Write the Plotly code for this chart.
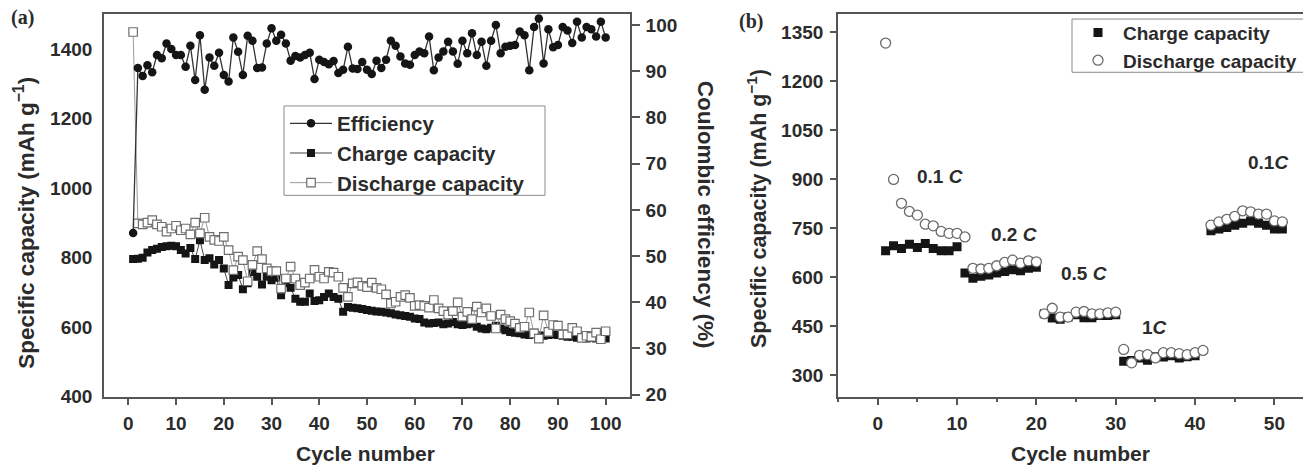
import plotly.graph_objects as go

# ---------------- Panel (a) data ----------------
cycles_a = list(range(1, 101))

efficiency = [55.0, 90.7, 89.0, 91.3, 89.8, 93.5, 92.8, 96.0, 94.8, 93.5,
              93.5, 91.0, 95.5, 88.1, 97.8, 86.0, 93.0, 91.2, 94.0, 89.2,
              87.8, 97.3, 94.2, 89.2, 97.7, 96.6, 90.7, 90.8, 96.0, 99.3,
              96.6, 97.9, 96.0, 92.3, 93.3, 93.0, 93.5, 94.0, 88.3, 92.5,
              92.0, 91.5, 92.2, 89.6, 90.3, 95.3, 90.6, 90.5, 92.0, 90.3,
              89.4, 92.3, 90.7, 92.5, 96.6, 95.5, 93.2, 91.7, 91.4, 93.5,
              94.3, 93.9, 97.5, 90.2, 93.0, 94.3, 96.4, 94.3, 91.6, 96.6,
              93.9, 98.2, 93.5, 96.4, 91.2, 96.6, 100.0, 93.9, 95.3, 95.5,
              95.7, 98.6, 97.8, 90.2, 99.6, 101.4, 91.7, 99.1, 95.2, 95.7,
              99.6, 98.8, 96.1, 100.7, 97.3, 99.6, 99.1, 97.5, 100.7, 97.3]

charge_a = [796, 797, 800, 815, 822, 826, 831, 833, 834, 833,
            822, 812, 828, 796, 850, 793, 798, 780, 793, 769,
            721, 743, 750, 709, 726, 759, 745, 723, 745, 735,
            742, 692, 726, 713, 682, 673, 673, 697, 675, 677,
            687, 697, 687, 682, 644, 658, 656, 654, 652, 649,
            647, 645, 644, 642, 640, 636, 634, 632, 630, 625,
            623, 613, 610, 612, 613, 608, 610, 615, 608, 606,
            608, 610, 601, 596, 594, 598, 604, 596, 591, 586,
            584, 582, 579, 577, 584, 576, 575, 577, 579, 577,
            575, 572, 572, 569, 572, 567, 569, 567, 568, 567]

discharge_a = [1450, 899, 896, 901, 908, 896, 889, 875, 884, 892,
               879, 884, 867, 901, 870, 915, 860, 851, 848, 860,
               822, 764, 803, 793, 732, 779, 819, 796, 769, 761,
               761, 711, 740, 774, 740, 721, 728, 740, 765, 745,
               740, 759, 757, 745, 713, 687, 726, 729, 719, 715,
               728, 713, 709, 694, 668, 673, 687, 692, 684, 661,
               663, 661, 656, 678, 654, 646, 636, 646, 671, 630,
               644, 623, 659, 642, 654, 632, 596, 636, 623, 617,
               610, 598, 601, 642, 582, 567, 634, 586, 606, 604,
               579, 579, 598, 588, 569, 575, 572, 584, 565, 588]

# ---------------- Panel (b) data ----------------
charge_b_cycles = (list(range(1, 11)) + list(range(11, 21)) + list(range(21, 31))
                   + list(range(31, 41)) + list(range(42, 52)))
charge_b = [681, 696, 688, 701, 691, 703, 688, 681, 681, 693,
            613, 597, 603, 607, 613, 617, 623, 620, 627, 630,
            488, 475, 471, 478, 485, 476, 476, 483, 483, 485,
            343, 345, 353, 346, 357, 356, 360, 353, 357, 360,
            742, 747, 752, 759, 765, 772, 765, 759, 747, 747]

discharge_b_cycles = (list(range(1, 12)) + list(range(12, 21)) + list(range(21, 31))
                      + list(range(31, 42)) + list(range(42, 52)))
discharge_b = [1316, 899, 826, 801, 790, 762, 757, 740, 734, 734, 723,
               627, 625, 627, 635, 645, 652, 643, 650, 647,
               488, 505, 478, 478, 493, 495, 488, 488, 491, 493,
               379, 338, 361, 363, 353, 369, 369, 366, 363, 369, 376,
               759, 769, 777, 786, 803, 800, 793, 793, 772, 769]

rate_labels = ["0.1 <i>C</i>", "0.2 <i>C</i>", "0.5 <i>C</i>", "1<i>C</i>", "0.1<i>C</i>"]

xticks_a = list(range(0, 101, 10))
yticks_a = list(range(400, 1401, 200))
yticks_eff = list(range(20, 101, 10))
xticks_b = list(range(0, 51, 10))
yticks_b = list(range(300, 1351, 150))

# ---------------- styling ----------------
W, H = 1303, 471
FONT = "Liberation Sans, Arial, sans-serif"
TXT = "#2b2b2b"
AX = "#555555"


def fx(px):
    return px / W


def fy(py):
    return 1 - py / H


fig = go.Figure()

# panel (a)
fig.add_trace(go.Scatter(
    x=cycles_a, y=charge_a, name="Charge capacity", mode="lines+markers",
    line=dict(color="#444444", width=1),
    marker=dict(symbol="square", size=8, color="#151515"),
    xaxis="x", yaxis="y", legend="legend", legendrank=2))
fig.add_trace(go.Scatter(
    x=cycles_a, y=discharge_a, name="Discharge capacity", mode="lines+markers",
    line=dict(color="#9a9a9a", width=1),
    marker=dict(symbol="square", size=8.5, color="white",
                line=dict(color="#6e6e6e", width=1.2)),
    xaxis="x", yaxis="y", legend="legend", legendrank=3))
fig.add_trace(go.Scatter(
    x=cycles_a, y=efficiency, name="Efficiency", mode="lines+markers",
    line=dict(color="#333333", width=1.3),
    marker=dict(symbol="circle", size=8.5, color="#151515"),
    xaxis="x", yaxis="y2", legend="legend", legendrank=1))

# panel (b)
fig.add_trace(go.Scatter(
    x=charge_b_cycles, y=charge_b, name="Charge capacity", mode="markers",
    marker=dict(symbol="square", size=9, color="#151515"),
    xaxis="x2", yaxis="y3", legend="legend2"))
fig.add_trace(go.Scatter(
    x=discharge_b_cycles, y=discharge_b, name="Discharge capacity", mode="markers",
    marker=dict(symbol="circle", size=10, color="white",
                line=dict(color="#6a6a6a", width=1.3)),
    xaxis="x2", yaxis="y3", legend="legend2"))

tickfont = dict(family=FONT, size=19, color=TXT, weight="bold")
ydom = [fy(406), fy(14.3)]

common = dict(showgrid=False, zeroline=False, showline=True, linecolor=AX,
              linewidth=1.6, tickcolor=AX, tickwidth=1.5, tickfont=tickfont)

fig.update_layout(
    width=W, height=H,
    margin=dict(l=0, r=0, t=0, b=0),
    paper_bgcolor="white", plot_bgcolor="white",
    showlegend=True,
    xaxis=dict(domain=[fx(104), fx(630)], range=[-5.1, 105.1], anchor="y",
               tickvals=xticks_a, ticks="outside", ticklen=7, mirror=True,
               ticklabelstandoff=2, **common),
    yaxis=dict(domain=ydom, range=[400, 1502], anchor="x",
               tickvals=yticks_a, ticks="", ticklabelstandoff=6, **common),
    yaxis2=dict(overlaying="y", side="right", anchor="x", range=[19.6, 102.4],
                tickvals=yticks_eff, ticks="outside", ticklen=8,
                ticklabelstandoff=2, **common),
    xaxis2=dict(domain=[fx(838), 1.0], range=[-5, 53.6], anchor="y3",
                tickvals=xticks_b, ticks="outside", ticklen=7, mirror=True,
                minor=dict(dtick=5, tick0=5, ticks="outside", ticklen=4,
                           tickcolor=AX, tickwidth=1.5),
                ticklabelstandoff=2, **common),
    yaxis3=dict(domain=ydom, range=[235, 1405], anchor="x2",
                tickvals=yticks_b, ticks="outside", ticklen=6,
                ticklabelstandoff=3, **common),
    legend=dict(x=fx(285), y=fy(106), xanchor="left", yanchor="top",
                bgcolor="rgba(0,0,0,0)", borderwidth=0,
                font=dict(family=FONT, size=20.5, color=TXT, weight="bold"),
                itemwidth=42, traceorder="normal"),
    legend2=dict(x=fx(1073), y=fy(14), xanchor="left", yanchor="top",
                 bgcolor="rgba(0,0,0,0)", borderwidth=0,
                 font=dict(family=FONT, size=19, color=TXT, weight="bold"),
                 itemwidth=40),
    shapes=[
        dict(type="rect", xref="paper", yref="paper",
             x0=fx(284), x1=fx(545), y0=fy(200), y1=fy(108.5),
             line=dict(color="#8a8a8a", width=1), fillcolor="white", layer="below"),
        dict(type="rect", xref="paper", yref="paper",
             x0=fx(1072), x1=fx(1310), y0=fy(74), y1=fy(19.5),
             line=dict(color="#8a8a8a", width=1), fillcolor="white", layer="below"),
    ],
)

ann = []


def tfont(size):
    return dict(family=FONT, size=size, color=TXT)


def label(text, px, py, font, angle=0):
    return dict(text=text, x=fx(px), y=fy(py), xref="paper", yref="paper",
                xanchor="center", yanchor="middle", textangle=angle,
                showarrow=False, font=font)


# axis titles
ann.append(label("<b>Specific capacity (mAh g<sup>−1</sup>)</b>", 24, 228, tfont(22.5), -90))
ann.append(label("<b>Coulombic efficiency (%)</b>", 705, 220, tfont(22.5), 90))
ann.append(label("<b>Specific capacity (mAh g<sup>−1</sup>)</b>", 757, 214, tfont(21.5), -90))
ann.append(label("<b>Cycle number</b>", 365, 464, tfont(21)))
ann.append(label("<b>Cycle number</b>", 1080, 464, tfont(21)))
# panel labels
serif = dict(family="Liberation Serif, serif", size=20, color=TXT)
ann.append(label("<b>(a)</b>", 22, 18.4, serif))
ann.append(label("<b>(b)</b>", 751, 22.5, serif))
# rate labels
rate_pos = [(940, 181), (1014, 240.5), (1084, 280.5), (1154, 335.7), (1268, 166.8)]
for lbl, (px, py) in zip(rate_labels, rate_pos):
    ann.append(label("<b>" + lbl + "</b>", px, py, tfont(19)))

fig.update_layout(annotations=ann)

fig.write_html("out.html", config={"displayModeBar": False},
               post_script="document.body.style.margin='0px';document.body.style.overflow='hidden';")
